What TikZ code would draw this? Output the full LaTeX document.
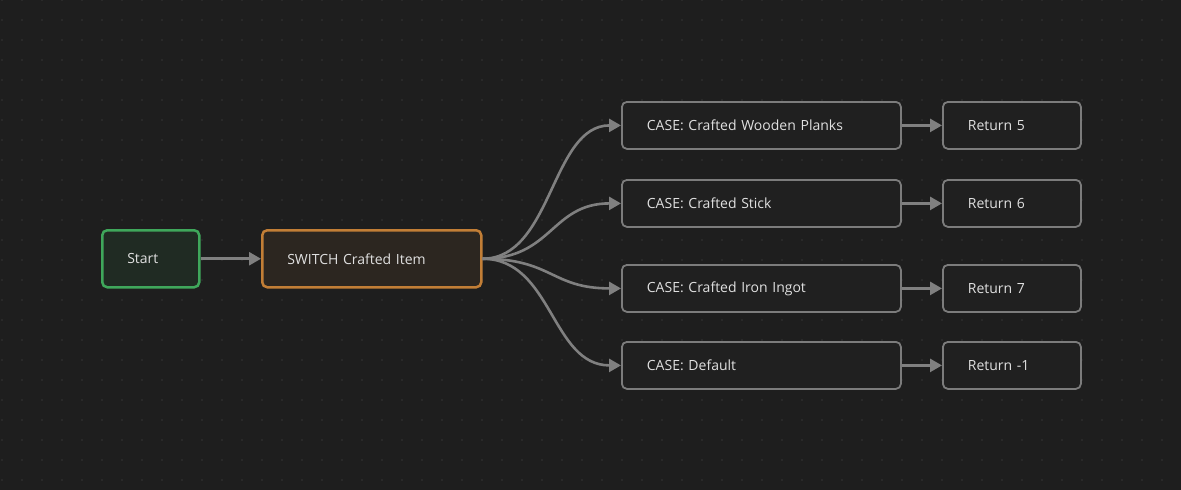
\documentclass[tikz,border=0pt]{standalone}
\usepackage{fontspec}
\setmainfont{Open Sans}
\usetikzlibrary{arrows.meta}
\definecolor{bg}{HTML}{1E1E1E}
\definecolor{dotc}{HTML}{363636}
\definecolor{txt}{HTML}{E0E0E0}
\definecolor{startfill}{HTML}{202B23}
\definecolor{startline}{HTML}{3FA75B}
\definecolor{swfill}{HTML}{2C2620}
\definecolor{swline}{HTML}{C27E36}
\definecolor{boxfill}{HTML}{202020}
\definecolor{boxline}{HTML}{7C7C7C}
\definecolor{edgec}{HTML}{808080}
\tikzset{
  base/.style={rectangle, rounded corners=5pt, inner xsep=25pt, inner ysep=0pt,
    align=left, text=txt, font=\fontsize{14}{16}\selectfont, anchor=north west},
  startbox/.style={base, draw=startline, fill=startfill, line width=2.5pt,
    text width=47pt, minimum height=57pt},
  switchbox/.style={base, draw=swline, fill=swfill, line width=2.5pt,
    text width=169pt, minimum height=57pt},
  casebox/.style={base, draw=boxline, fill=boxfill, line width=1.8pt,
    text width=229pt, minimum height=47pt},
  retbox/.style={base, draw=boxline, fill=boxfill, line width=1.8pt,
    text width=88pt, minimum height=47pt},
  conn/.style={draw=edgec, line width=2.6pt, -{Triangle[length=12pt,width=13pt]}}
}
\begin{document}
\begin{tikzpicture}[x=1pt,y=-1pt]
\fill[bg] (0,0) rectangle (1181,490);
\useasboundingbox (0,0) rectangle (1181,490);
\foreach \i in {0,...,59}{\foreach \j in {0,...,24}{\fill[dotc] (2+20*\i,20*\j) circle (0.8);}}
\node[startbox] (start) at (101,229) {Start};
\node[switchbox] (sw) at (261,229) {SWITCH Crafted Item};
\node[casebox] (c1) at (621,101) {CASE: Crafted Wooden Planks};
\node[casebox] (c2) at (621,179) {CASE: Crafted Stick};
\node[casebox] (c3) at (621,264) {CASE: Crafted Iron Ingot};
\node[casebox] (c4) at (621,341) {CASE: Default};
\node[retbox] (r1) at (942,101) {Return 5};
\node[retbox] (r2) at (942,179) {Return 6};
\node[retbox] (r3) at (942,264) {Return 7};
\node[retbox] (r4) at (942,341) {Return -1};
\draw[conn] (start.east) -- (sw.west);
\foreach \c in {c1,c2,c3,c4}{
  \draw[conn] (sw.east) .. controls ([xshift=70pt]sw.east) and ([xshift=-70pt]\c.west) .. (\c.west);
}
\draw[conn] (c1.east) -- (r1.west);
\draw[conn] (c2.east) -- (r2.west);
\draw[conn] (c3.east) -- (r3.west);
\draw[conn] (c4.east) -- (r4.west);
\end{tikzpicture}
\end{document}
